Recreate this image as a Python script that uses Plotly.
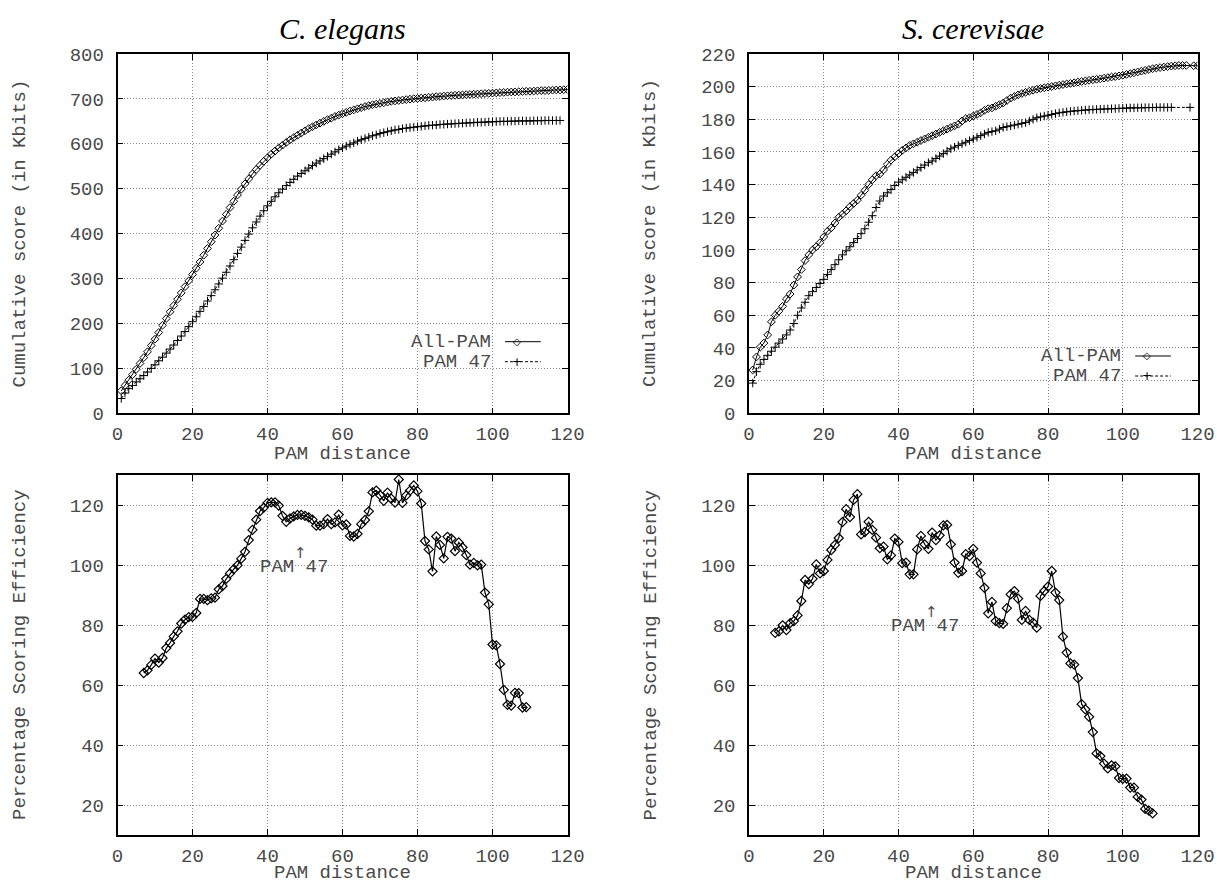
import plotly.graph_objects as go
from plotly.subplots import make_subplots

## Data

# C. elegans, cumulative score (Kbits) vs PAM distance
cel_all_x = list(range(1, 121))
cel_all_y = [50, 62, 74, 86, 98, 111, 124, 137, 151, 165,
             180, 196, 211, 226, 240, 254, 268, 282, 295, 309,
             323, 337, 352, 367, 382, 397, 412, 428, 443, 458,
             472, 486, 499, 511, 522, 533, 543, 552, 561, 569,
             577, 584, 591, 597, 603, 609, 614, 619, 624, 629,
             634, 638, 642, 646, 650, 654, 657, 661, 664, 667,
             670, 673, 675.5, 678, 680.5, 683, 685, 687, 688.5, 690,
             691.5, 693, 694.5, 695.5, 696.5, 697.5, 698.5, 699.5, 700.5, 701,
             702, 702.5, 703.5, 704, 705, 705.5, 706.5, 707, 707.5, 708,
             708.5, 709, 709.5, 710, 710.5, 711, 711.5, 712, 712.5, 713,
             713.5, 714, 714.5, 715, 715.5, 715.5, 716, 716.5, 717, 717,
             717.5, 718, 718.5, 718.5, 719, 719.5, 720, 720, 720.5, 721]
cel_p47_x = list(range(1, 119))
cel_p47_y = [33, 45, 55, 62, 70, 77, 84, 92, 100, 108,
             117, 125, 134, 143, 152, 162, 172, 182, 193, 204,
             215, 227, 238, 250, 262, 275, 288, 301, 314, 328,
             342, 356, 370, 385, 399, 413, 426, 439, 451, 462,
             472, 482, 491, 499, 507, 514, 521, 528, 534, 540,
             546, 552, 557, 562, 567, 572, 577, 582, 587, 591,
             595, 599, 602, 606, 609, 612, 615, 618, 620, 623,
             625, 627, 629, 631, 632, 634, 635, 636, 637, 638,
             639, 640, 641, 641.5, 642, 643, 643.5, 644, 644.5, 645,
             645.5, 646, 646.5, 647, 647.5, 648, 648, 648.5, 649, 649,
             649.5, 650, 650, 650, 650.5, 650.5, 651, 651, 651, 651,
             651.5, 651.5, 651.5, 652, 652, 652, 652, 652]

# S. cerevisae, cumulative score (Kbits) vs PAM distance
sce_all_x = list(range(1, 118)) + [119, 120]
sce_all_y = [26.5, 34.5, 40.5, 43, 48, 56, 60, 62.5, 65.5, 70,
             73, 78.5, 83.5, 88, 93.5, 97, 100, 102, 104.5, 108,
             111.5, 113.5, 116.5, 120, 122, 124, 126.5, 128.5, 130.5, 133.5,
             136.5, 140, 143, 145.5, 146.5, 149, 152.5, 155, 157, 159,
             161, 162.5, 164, 165, 166, 167, 168, 169, 170, 171,
             172, 173, 174, 175, 176, 177, 179, 180.5, 181, 182,
             183, 184, 185.5, 186.5, 187, 188, 189, 190, 191.5, 193,
             194, 195, 195.8, 196.5, 197.2, 197.8, 198.4, 198.9, 199.3, 199.7,
             200.1, 200.5, 200.9, 201.3, 201.7, 202, 202.4, 202.8, 203.2, 203.5,
             203.9, 204.2, 204.5, 204.8, 205.2, 205.5, 205.9, 206.2, 206.6, 207,
             207.5, 208, 208.5, 209, 209.5, 210, 210.5, 211, 211.4, 211.7,
             212, 212.3, 212.6, 212.8, 213, 213, 213, 212.8, 212.8]
sce_p47_x = list(range(1, 114)) + [118]
sce_p47_y = [18.5, 25.5, 30, 33, 35.5, 38, 40.5, 43, 45.5, 48,
             51, 55, 60, 64.5, 68, 72, 74.5, 77, 79.5, 82,
             85, 88, 91, 94, 97, 99.5, 102, 104.5, 107, 110,
             113, 117, 121, 126, 130, 133, 135, 137, 139.5, 141.5,
             143, 144.5, 146, 147.5, 149, 150.5, 152, 153.5, 154.5, 156,
             157.5, 159, 160.5, 162, 163, 164, 165, 166, 167, 168,
             169, 170, 171, 172, 172.5, 173, 174, 175, 175.5, 176,
             176.5, 177, 177.5, 178, 179, 180, 181, 181.5, 182, 182.5,
             183, 183.5, 184, 184.3, 184.6, 184.9, 185.1, 185.3, 185.5, 185.7,
             185.9, 186, 186.1, 186.2, 186.3, 186.4, 186.5, 186.6, 186.7, 186.8,
             186.9, 187, 187, 187.1, 187.1, 187.2, 187.2, 187.2, 187.3, 187.3,
             187.3, 187.3, 187.3, 187.3]

# Percentage scoring efficiency vs PAM distance
cel_eff_x = list(range(7, 110))
cel_eff_y = [64, 64.9, 66.7, 68.8, 67.5, 69, 72.3, 74, 76.2, 77.9,
             80.5, 81.8, 82.6, 82.7, 84, 88.7, 88.7, 88.3, 88.9, 89.1,
             91.9, 93, 95.4, 97.2, 98.6, 99.9, 102.1, 104.4, 108.3, 111.7,
             115.1, 118, 119.1, 120.7, 120.9, 120.9, 119.8, 116.4, 114.4, 115.5,
             116.2, 116.7, 116.7, 116.4, 115.9, 115.1, 113.1, 113.1, 113.6, 115.3,
             113.6, 114.2, 116.8, 113.2, 113.5, 109.7, 109.5, 110.4, 113.6, 115,
             117.9, 124.2, 124.8, 123.3, 121.4, 124.1, 122.1, 120.8, 128.5, 120.7,
             123.2, 124.8, 126.5, 124.6, 120.5, 108, 105.2, 97.9, 109.5, 106.7,
             102.2, 109.4, 108.8, 104.6, 107.5, 105.9, 103.3, 100.1, 100.7, 99.9,
             100.1, 90.8, 86.9, 73.5, 73.2, 67, 58.4, 53.4, 53.1, 57.4,
             57.3, 52.5, 52.6]
sce_eff_x = list(range(7, 109))
sce_eff_y = [77.4, 77.9, 79.9, 78.3, 80.6, 81.3, 83.2, 88, 95, 93.6,
             95.4, 100.2, 97.2, 98, 101.7, 105, 106.7, 109, 114.3, 118.6,
             116, 121.7, 123.6, 110.2, 111, 114.4, 111.7, 109.1, 105.6, 106.1,
             101.9, 103.2, 108.8, 107.7, 100.6, 100.8, 96.9, 96.9, 105.2, 109.7,
             106.9, 105.4, 110.8, 108.3, 109.9, 113.2, 113.4, 106.9, 100.8, 97.4,
             98, 103.6, 103, 105.4, 100.8, 97.2, 92.4, 83.9, 87.7, 81.3,
             80.6, 80.4, 85.6, 90.2, 91.3, 88.8, 81.7, 84.7, 81.7, 80.8,
             79.1, 89.7, 91.3, 92.8, 98, 90.8, 88.3, 76.1, 70.8, 67.2,
             66.8, 62.3, 53.6, 51.9, 49.4, 44.3, 37.2, 36.3, 33.8, 32.2,
             33.2, 32.9, 29, 28.7, 28.8, 25.8, 25.8, 22.7, 21.8, 18.7,
             18.1, 17.2]

species = ["C. elegans", "S. cerevisae"]
legend_names = ["All-PAM", "PAM 47"]
pam_label = "PAM 47"
pam_label_x = 37.5
pam_arrow_x = 48.7

## Figure

W, H = 1217, 884
MONO = "Liberation Mono, Courier New, monospace"
TXT = "#4a4a4a"


def fx(px):
    return px / W


def fy(py):
    return 1 - py / H


fig = make_subplots(rows=2, cols=2)

# top row: cumulative scores
for col, (ax, ay, px, py) in enumerate([(cel_all_x, cel_all_y, cel_p47_x, cel_p47_y),
                                         (sce_all_x, sce_all_y, sce_p47_x, sce_p47_y)], start=1):
    fig.add_trace(go.Scatter(x=ax, y=ay, mode="lines+markers", name=legend_names[0],
                             line=dict(color="black", width=1),
                             marker=dict(symbol="diamond-open", size=6, color="black",
                                         line=dict(width=1))),
                  row=1, col=col)
    fig.add_trace(go.Scatter(x=px, y=py, mode="lines+markers", name=legend_names[1],
                             line=dict(color="black", width=1, dash="3px,2px"),
                             marker=dict(symbol="cross-thin", size=6, color="black",
                                         line=dict(width=1, color="black"))),
                  row=1, col=col)

# bottom row: efficiency
for col, (ex, ey) in enumerate([(cel_eff_x, cel_eff_y), (sce_eff_x, sce_eff_y)], start=1):
    fig.add_trace(go.Scatter(x=ex, y=ey, mode="lines+markers",
                             line=dict(color="black", width=1.2),
                             marker=dict(symbol="diamond-open", size=7, color="black",
                                         line=dict(width=1.2))),
                  row=2, col=col)

# pixel geometry of the four panels
xl = [fx(117.5), fx(567.5)]
xr = [fx(749.0), fx(1197.5)]
yt = [fy(413.3), fy(54.0)]
yb = [fy(835.0), fy(475.0)]

axis_style = dict(showline=True, linecolor="black", linewidth=1.5, mirror="ticks",
                  ticks="inside", ticklen=6, tickcolor="black", tickwidth=1,
                  showgrid=True, gridcolor="#8a8a8a", griddash="1px,2px", gridwidth=1,
                  zeroline=False, automargin=False,
                  tickfont=dict(family=MONO, size=19, color=TXT))

fig.update_xaxes(**axis_style, range=[0, 120], tick0=0, dtick=20, ticklabelstandoff=2)
fig.update_yaxes(**axis_style, ticklabelstandoff=8)

fig.update_xaxes(domain=xl, row=1, col=1)
fig.update_xaxes(domain=xr, row=1, col=2)
fig.update_xaxes(domain=xl, row=2, col=1)
fig.update_xaxes(domain=xr, row=2, col=2)
fig.update_yaxes(domain=yt, range=[0, 800], tick0=0, dtick=100, row=1, col=1)
fig.update_yaxes(domain=yt, range=[0, 220], tick0=0, dtick=20, row=1, col=2)
fig.update_yaxes(domain=yb, range=[10, 130], tick0=20, dtick=20, row=2, col=1)
fig.update_yaxes(domain=yb, range=[10, 130], tick0=20, dtick=20, row=2, col=2)

ann = []
# panel titles
ann.append(dict(text="<i>" + species[0] + "</i>", x=fx(342.5), y=fy(28)))
ann.append(dict(text="<i>" + species[1] + "</i>", x=fx(973.0), y=fy(28)))
for a in ann:
    a.update(xref="paper", yref="paper", showarrow=False, xanchor="center", yanchor="middle",
             font=dict(family="Liberation Serif, serif", size=30, color="black"))

# axis titles
for xc in (342.5, 973.0):
    for yc in (454.0, 873.0):
        ann.append(dict(text="PAM distance", x=fx(xc), y=fy(yc), xref="paper", yref="paper",
                        showarrow=False, xanchor="center", yanchor="middle",
                        font=dict(family=MONO, size=19, color=TXT)))
for xc in (20.0, 650.5):
    ann.append(dict(text="Cumulative score (in Kbits)", x=fx(xc), y=fy(233.5),
                    xref="paper", yref="paper", showarrow=False, textangle=-90,
                    xanchor="center", yanchor="middle", font=dict(family=MONO, size=19, color=TXT)))
    ann.append(dict(text="Percentage Scoring Efficiency", x=fx(xc), y=fy(655.0),
                    xref="paper", yref="paper", showarrow=False, textangle=-90,
                    xanchor="center", yanchor="middle", font=dict(family=MONO, size=19, color=TXT)))

# key of the top panels (gnuplot style: text, then sample)
shapes = []
for (xa, ya), (ky1, ky2) in zip([("x", "y"), ("x2", "y2")], [(0.1993, 0.1436), (0.1595, 0.1038)]):
    for name, ky, dash, sym in [(legend_names[0], ky1, "solid", "\u25c7"),
                                (legend_names[1], ky2, "3px,2px", "+")]:
        ann.append(dict(text=name, x=0.834, y=ky, xref=xa + " domain", yref=ya + " domain",
                        showarrow=False, xanchor="right", yanchor="middle",
                        font=dict(family=MONO, size=19, color=TXT)))
        shapes.append(dict(type="line", x0=0.861, x1=0.9406, y0=ky, y1=ky,
                           xref=xa + " domain", yref=ya + " domain",
                           line=dict(color="black", width=1, dash=dash)))
        ann.append(dict(text=sym, x=0.887, y=ky, xref=xa + " domain", yref=ya + " domain",
                        showarrow=False, xanchor="center", yanchor="middle",
                        font=dict(family="DejaVu Sans", size=10 if sym != "+" else 12, color="black")))

# "PAM 47" marker in the efficiency panels
for xa, ya, ty in [("x3", "y3", 99.2), ("x4", "y4", 79.7)]:
    ann.append(dict(text=pam_label, x=pam_label_x, y=ty, xref=xa, yref=ya, showarrow=False,
                    xanchor="left", yanchor="middle", font=dict(family=MONO, size=19, color=TXT)))
    ann.append(dict(text="\u2191", x=pam_arrow_x, y=ty + 4.8, xref=xa, yref=ya, showarrow=False,
                    xanchor="center", yanchor="middle", font=dict(family="DejaVu Sans", size=15, color=TXT)))

fig.update_layout(width=W, height=H, margin=dict(l=0, r=0, t=0, b=0, autoexpand=False),
                  paper_bgcolor="white", plot_bgcolor="white", showlegend=False,
                  annotations=ann, shapes=shapes)

# drop the browser's default 8px page margin so the figure fills the window
fig.write_html("out.html", config={"displayModeBar": False},
               post_script="document.body.style.margin='0';document.body.style.overflow='hidden';")
